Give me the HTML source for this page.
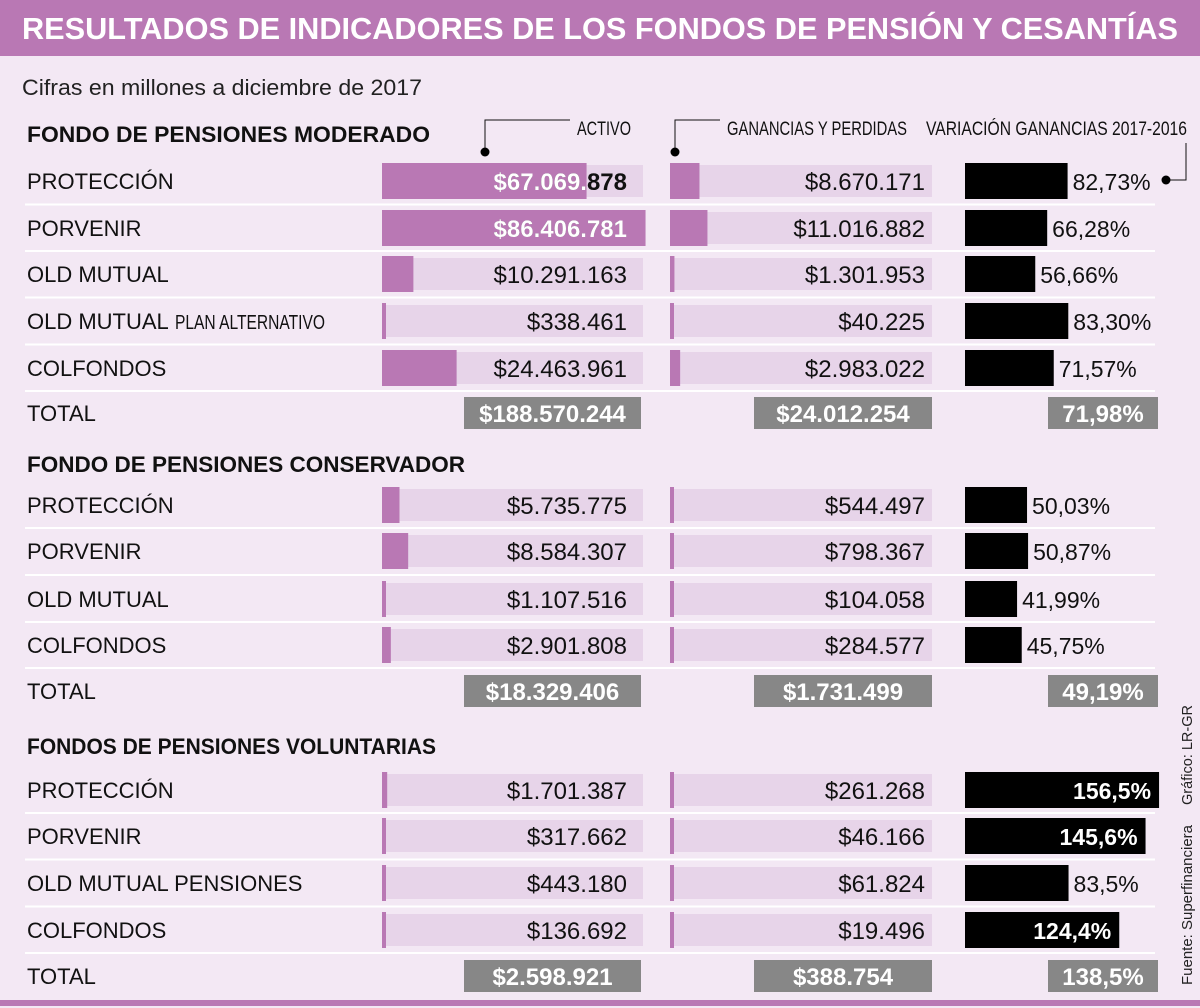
<!DOCTYPE html>
<html><head><meta charset="utf-8"><style>
html,body{margin:0;padding:0;background:#f3e8f4;}
svg{display:block;font-family:"Liberation Sans",sans-serif;}
</style></head><body>
<svg id="chart" width="1200" height="1008" viewBox="0 0 1200 1008" xmlns="http://www.w3.org/2000/svg">
<rect x="0" y="0" width="1200" height="1008" fill="#f3e8f4"/>
<rect x="0" y="0" width="1200" height="56" fill="#b978b4"/>
<text x="22" y="39" font-size="31" font-weight="bold" fill="#fff" textLength="1156" lengthAdjust="spacingAndGlyphs">RESULTADOS DE INDICADORES DE LOS FONDOS DE PENSIÓN Y CESANTÍAS</text>
<text x="22" y="95" font-size="22" fill="#222" textLength="400" lengthAdjust="spacingAndGlyphs">Cifras en millones a diciembre de 2017</text>
<g>
<polyline points="570,120 485,120 485,150" fill="none" stroke="#111" stroke-width="1"/>
<circle cx="485" cy="152" r="4.5" fill="#000"/>
<text x="577" y="135" font-size="19" fill="#111" textLength="54" lengthAdjust="spacingAndGlyphs">ACTIVO</text>
<polyline points="720,120 675,120 675,150" fill="none" stroke="#111" stroke-width="1"/>
<circle cx="675" cy="152" r="4.5" fill="#000"/>
<text x="727" y="135" font-size="19" fill="#111" textLength="180" lengthAdjust="spacingAndGlyphs">GANANCIAS Y PERDIDAS</text>
<text x="926" y="135" font-size="19" fill="#111" textLength="261" lengthAdjust="spacingAndGlyphs">VARIACIÓN GANANCIAS 2017-2016</text>
<polyline points="1186,143 1186,180 1168,180" fill="none" stroke="#111" stroke-width="1"/>
<circle cx="1166" cy="180" r="4.5" fill="#000"/>
</g>
<g id="body"></g>
<text transform="translate(1192,805) rotate(-90)" font-size="15" fill="#222" textLength="100" lengthAdjust="spacingAndGlyphs">Gráfico: LR-GR</text>
<text transform="translate(1192,985) rotate(-90)" font-size="15" fill="#222" textLength="160" lengthAdjust="spacingAndGlyphs">Fuente: Superfinanciera</text>
<rect x="0" y="1000" width="1200" height="6" fill="#b978b4"/>
</svg>
<script>
const sectionTitles = ["FONDO DE PENSIONES MODERADO","FONDO DE PENSIONES CONSERVADOR","FONDOS DE PENSIONES VOLUNTARIAS"];
const labels1 = ["PROTECCIÓN","PORVENIR","OLD MUTUAL","OLD MUTUAL|PLAN ALTERNATIVO","COLFONDOS"];
const activo1 = [67069878,86406781,10291163,338461,24463961];
const ganancias1 = [8670171,11016882,1301953,40225,2983022];
const variacion1 = [82.73,66.28,56.66,83.30,71.57];
const totals1 = ["$188.570.244","$24.012.254","71,98%"];
const labels2 = ["PROTECCIÓN","PORVENIR","OLD MUTUAL","COLFONDOS"];
const activo2 = [5735775,8584307,1107516,2901808];
const ganancias2 = [544497,798367,104058,284577];
const variacion2 = [50.03,50.87,41.99,45.75];
const totals2 = ["$18.329.406","$1.731.499","49,19%"];
const labels3 = ["PROTECCIÓN","PORVENIR","OLD MUTUAL PENSIONES","COLFONDOS"];
const activo3 = [1701387,317662,443180,136692];
const ganancias3 = [261268,46166,61824,19496];
const variacion3 = [156.5,145.6,83.5,124.4];
const totals3 = ["$2.598.921","$388.754","138,5%"];
const pctDecimals = [2,2,1];

const NS="http://www.w3.org/2000/svg";
const body=document.getElementById('body');
function mk(tag,attrs,parent,txt){const e=document.createElementNS(NS,tag);for(const k in attrs)e.setAttribute(k,attrs[k]);if(txt!==undefined)e.textContent=txt;(parent||body).appendChild(e);return e;}
function money(v){return "$"+String(v).replace(/\B(?=(\d{3})+(?!\d))/g,".");}
function pct(v,d){return v.toFixed(d).replace(".",",")+"%";}
const xActivo=v=>Math.max(4,v/1e6*3.05);
const xGan=v=>Math.max(4,v/1e6*3.4);
const xVar=v=>v*1.24;

const layouts=[
 {title:142,tw:403,rows:[181,228,274,321,368],total:413},
 {title:472,tw:438,rows:[505,551,599,645],total:691},
 {title:754,tw:409,rows:[790,836,883,930],total:976}];
const sections=[[labels1,activo1,ganancias1,variacion1,totals1],[labels2,activo2,ganancias2,variacion2,totals2],[labels3,activo3,ganancias3,variacion3,totals3]];
let clipId=0;
sections.forEach((s,si)=>{
 const [labels,act,gan,vr,tot]=s;const L=layouts[si];
 const g=mk('g',{});
 
 
 const t=mk('text',{x:27,y:L.title,'font-size':22,'font-weight':'bold',fill:'#111',textLength:L.tw,lengthAdjust:'spacingAndGlyphs'},g,sectionTitles[si]);
 
 
 labels.forEach((lab,i)=>{
  const cy=L.rows[i];
  const r=mk('g',{},g);
  
  
  const sy=(i<labels.length-1)?(cy+L.rows[i+1])/2-1:cy+22;
  const sep=mk('rect',{x:25,y:sy,width:1130,height:2,fill:'#fff'},r);
  
  
  const parts=lab.split('|');
  const lt=mk('text',{x:27,y:cy+8,'font-size':22,fill:'#111'},r,parts[0]);
  
  
  if(parts[1]){
   const ts=mk('text',{x:175,y:cy+8,'font-size':20,fill:'#111',textLength:150,lengthAdjust:'spacingAndGlyphs'},r,parts[1]);
   
   
  }
  const tr=mk('rect',{x:382,y:cy-16,width:261,height:32,fill:'#e7d4e9'},r);
  
  
  const aw=xActivo(act[i]);
  const bar=mk('rect',{x:382,y:cy-18,width:aw,height:36,fill:'#b978b4'},r);
  
  
  const bold=aw>150;
  const av=mk('text',{x:627,y:cy+9,'font-size':24,'font-weight':bold?'bold':'normal','text-anchor':'end',fill:'#111'},r,money(act[i]));
  
  
  if(bold){const id='c'+(clipId++);const cp=mk('clipPath',{id:id},r);mk('rect',{x:382,y:cy-18,width:aw,height:36},cp);
   const wv=mk('text',{x:627,y:cy+9,'font-size':24,'font-weight':'bold','text-anchor':'end',fill:'#fff','clip-path':'url(#'+id+')'},r,money(act[i]));
   
   }
  const tr2=mk('rect',{x:670,y:cy-16,width:262,height:32,fill:'#e7d4e9'},r);
  
  
  const gb=mk('rect',{x:670,y:cy-18,width:xGan(gan[i]),height:36,fill:'#b978b4'},r);
  
  
  const gv=mk('text',{x:925,y:cy+9,'font-size':24,'text-anchor':'end',fill:'#111'},r,money(gan[i]));
  
  
  const vw=xVar(vr[i]);
  const vb=mk('rect',{x:965,y:cy-18,width:vw,height:36,fill:'#000'},r);
  
  
  const inside=vr[i]>110;
  const vt=mk('text',{x:inside?965+vw-8:965+vw+5,y:cy+9,'font-size':23,'font-weight':inside?'bold':'normal','text-anchor':inside?'end':'start',fill:inside?'#fff':'#111'},r,pct(vr[i],pctDecimals[si]));
  
  
 });
 const ty=L.total;
 const tg=mk('g',{},g);
 
 
 const tl=mk('text',{x:27,y:ty+8,'font-size':22,fill:'#111'},tg,'TOTAL');
 
 
 [[464,641],[754,932],[1048,1158]].forEach((b,k)=>{
  const bx=mk('rect',{x:b[0],y:ty-16,width:b[1]-b[0],height:32,fill:'#878787'},tg);
  
  
  const tt=mk('text',{x:(b[0]+b[1])/2,y:ty+9,'font-size':24,'font-weight':'bold','text-anchor':'middle',fill:'#fff'},tg,tot[k]);
  
  
 });
});
</script>
</body></html>
